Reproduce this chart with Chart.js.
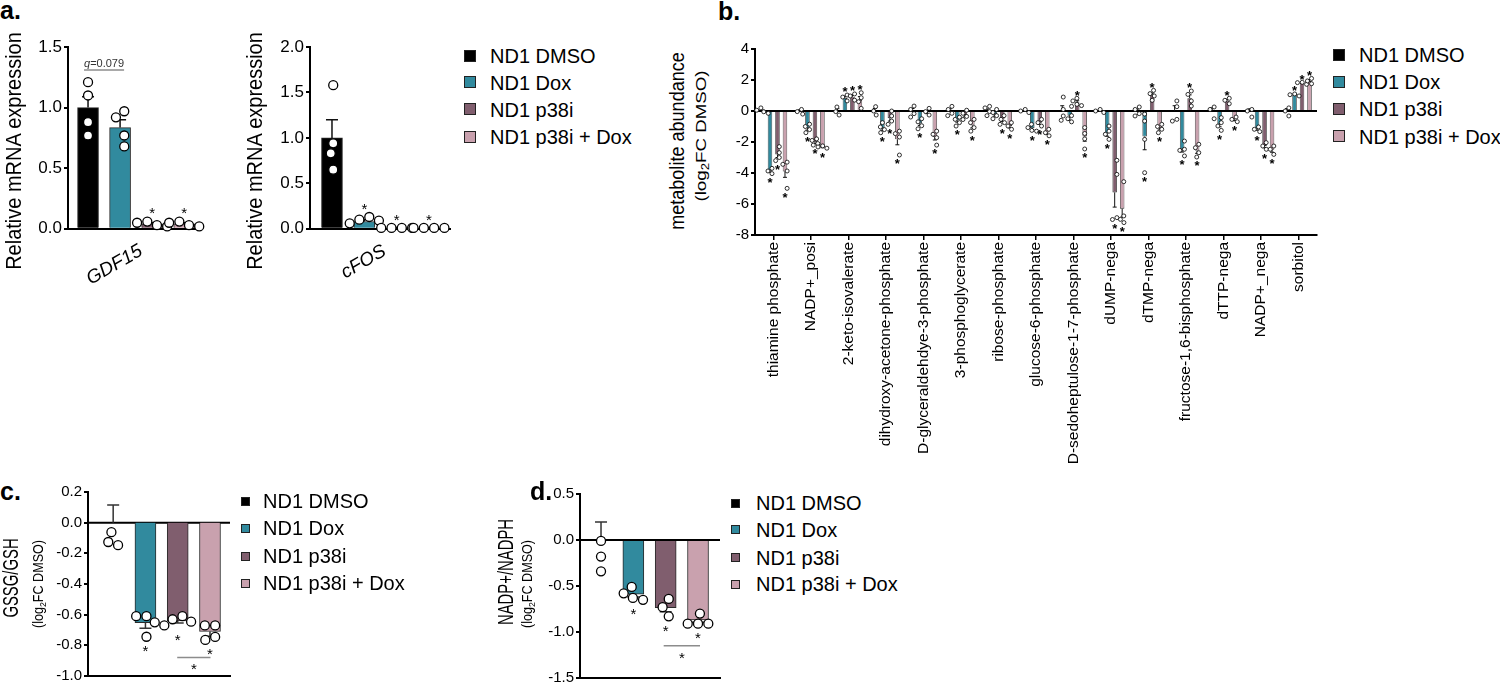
<!DOCTYPE html>
<html><head><meta charset="utf-8">
<script src="https://cdn.jsdelivr.net/npm/chart.js@4.4.1/dist/chart.umd.min.js"></script>
<style>
html,body{margin:0;padding:0;background:#fff;}
#page{position:relative;width:1500px;height:688px;overflow:hidden;font-family:"Liberation Sans",Arial,Helvetica,sans-serif;color:#000;}
canvas{position:absolute;}
.t{position:absolute;white-space:nowrap;}
.sq{position:absolute;box-sizing:border-box;border:1px solid #222;}
sub{font-size:0.7em;vertical-align:-0.3em;line-height:0;}
</style></head>
<body><div id="page"></div>
<script>
// ---------------- DATA ----------------
const groups = ['ND1 DMSO','ND1 Dox','ND1 p38i','ND1 p38i + Dox'];
const groupColors = ['#000000','#318a9e','#805e6e','#c9a1ae'];

// panel a - GDF15
const gdfMean = [1.0, 0.835, 0.04, 0.04];
const gdfErr = [0.09, 0.065, 0.01, 0.01];
const gdfPts = [[1.21,1.10,0.88,0.77],[0.97,0.92,0.77,0.68],[0.06,0.05,0.03,0.02],[0.06,0.05,0.03,0.02]];
const gdfStars = [0,0,1,1];
// panel a - cFOS
const cfosMean = [1.0, 0.08, 0.01, 0.01];
const cfosErr = [0.2, 0.02, 0.003, 0.003];
const cfosPts = [[1.58,0.94,0.83,0.65],[0.13,0.10,0.09,0.06],[0.01,0.01,0.01,0.01],[0.01,0.01,0.01,0.01]];
const cfosStars = [0,1,1,1];

// panel b - metabolites
const metabolites = ['thiamine phosphate','NADP+_posi','2-keto-isovalerate','dihydroxy-acetone-phosphate','D-glyceraldehdye-3-phosphate','3-phosphoglycerate','ribose-phosphate','glucose-6-phosphate','D-sedoheptulose-1-7-phosphate','dUMP-nega','dTMP-nega','fructose-1,6-bisphosphate','dTTP-nega','NADP+_nega','sorbitol'];
const bTicks = [-8,-6,-4,-2,0,2,4];
const bDmsoMean = [0,0,0,0,0,0,0,0,0,0,0,0,0,0,0];
const bDoxMean = [-3.85,-1.1,0.85,-1.1,-0.8,-0.6,-0.2,-1.1,-0.3,-1.45,-1.65,-2.45,-0.85,-1.15,1.05];
const bP38iMean = [-2.8,-2.0,0.92,-0.46,-0.05,-0.25,-0.55,-0.75,0.56,-5.25,1.03,0.83,0.66,-2.25,1.8];
const bComboMean = [-3.9,-2.32,0.72,-1.82,-1.68,-0.92,-0.97,-1.39,-1.65,-6.3,-1.1,-2.55,-0.54,-2.5,1.93];
const bDmsoErr = [0.06,0.08,0.15,0.16,0.16,0.14,0.13,0.06,0.34,0.06,0.13,0.34,0.2,0.14,0.15];
const bDoxErr = [0.1,0.13,0.11,0.14,0.14,0.12,0.13,0.1,0.3,0.18,0.85,0.2,0.17,0.09,0.05];
const bP38iErr = [0.2,0.1,0.12,0.19,0.12,0.13,0.12,0.12,0.1,0.95,0.13,0.21,0.1,0.12,0.05];
const bComboErr = [0.38,0.05,0.21,0.36,0.19,0.17,0.12,0.12,0.3,0.55,0.12,0.18,0.09,0.16,0.1];
const bDmsoPts = [[0.2,0.05,-0.05,-0.15],[0.1,-0.04,-0.2],[0.26,-0.04,-0.26],[0.28,0.0,-0.26],[0.32,0.1,-0.17,-0.39],[0.3,0.1,-0.15,-0.3],[0.3,0.2,-0.04,-0.3],[0.1,0.0,-0.1],[0.9,0.1,-0.32,-0.6],[0.1,0.0,-0.1],[0.26,0.1,-0.17,-0.32],[0.65,0.28,-0.54,-0.65],[0.26,0.1,-0.5],[0.1,0.0,-0.39],[0.2,0.0,-0.32]];
const bDoxPts = [[-3.7,-3.87,-4.04],[-0.85,-1.0,-1.2,-1.4],[1.03,0.9,0.65],[-0.75,-1.03,-1.2,-1.4],[-0.5,-0.7,-0.95,-1.15],[-0.4,-0.54,-0.75,-0.97],[0.1,-0.1,-0.3,-0.5],[-0.86,-1.07,-1.25,-1.3],[0.3,-0.3,-0.5,-0.7],[-0.97,-1.3,-1.5,-1.83],[-0.2,-0.65,-1.83,-3.98],[-1.94,-2.47,-2.54,-2.9],[-0.43,-0.75,-0.97,-1.25],[-1.03,-1.18,-1.33],[1.1,0.97,1.05]];
const bP38iPts = [[-2.3,-2.69,-3.0,-3.2],[-1.8,-1.9,-2.1,-2.2],[1.1,0.97,0.7],[0.0,-0.32,-0.65,-0.86],[0.17,-0.04,-0.26],[0.05,-0.15,-0.35,-0.55],[-0.3,-0.54,-0.75,-0.86],[-0.54,-0.75,-0.97],[0.35,0.43,0.65,0.82],[-3.18,-4.09,-6.88,-7.0],[1.33,1.12,0.97,0.69],[1.29,1.07,0.65,0.32],[0.82,0.69,0.47],[-2.04,-2.26,-2.47],[1.83,1.72,1.85]];
const bComboPts = [[-3.3,-3.44,-3.87,-4.99],[-2.25,-2.32,-2.4],[1.18,0.86,0.6,0.17],[-1.3,-1.46,-1.68,-2.84],[-1.3,-1.5,-1.72,-2.2],[-0.54,-0.75,-1.07,-1.3],[-0.75,-0.97,-1.18],[-1.18,-1.4,-1.6],[-1.07,-1.45,-1.8,-2.45],[-4.56,-6.77,-6.99,-7.2],[-0.86,-1.0,-1.18,-1.4],[-2.15,-2.37,-2.69,-2.97],[-0.39,-0.54,-0.69],[-2.26,-2.47,-2.8],[2.1,1.94,1.76]];
const bDmsoStars = [0,0,0,0,0,0,0,0,0,0,0,0,0,0,0];
const bDoxStars = [1,1,1,1,1,1,0,1,0,1,1,1,1,1,1];
const bP38iStars = [1,1,1,1,0,0,1,1,1,1,1,1,1,1,1];
const bComboStars = [1,1,1,1,1,1,1,1,1,1,1,1,1,1,1];

// panel c - GSSG/GSH
const gssgMean = [0, -0.653, -0.64, -0.71];
const gssgErr = [0.115, 0.035, 0.015, 0.03];
const gssgPts = [[-0.062,-0.147,-0.126],[-0.61,-0.61,-0.65,-0.744],[-0.61,-0.67,-0.63,-0.646],[-0.67,-0.67,-0.765,-0.745]];
const gssgStars = [0,1,1,1];
// panel d - NADP+/NADPH
const nadpMean = [0, -0.59, -0.735, -0.87];
const nadpErr = [0.197, 0.03, 0.045, 0.025];
const nadpPts = [[-0.01,-0.18,-0.34],[-0.65,-0.58,-0.51,-0.63],[-0.64,-0.73,-0.83],[-0.8,-0.91,-0.91,-0.91]];
const nadpStars = [0,1,1,1];

// ---------------- HELPERS ----------------
const FONT = '"Liberation Sans", Arial, Helvetica, sans-serif';
Chart.defaults.font.family = FONT;
Chart.defaults.color = '#000';
const page = document.getElementById('page');

function addText(html, x, baseline, size, o) {
  o = o || {};
  const d = document.createElement('div');
  d.className = 't';
  d.innerHTML = html;
  d.style.fontSize = size + 'px';
  d.style.lineHeight = size + 'px';
  d.style.left = x + 'px';
  d.style.top = (baseline - 0.8465 * size) + 'px';
  if (o.bold) d.style.fontWeight = 'bold';
  if (o.italic) d.style.fontStyle = 'italic';
  page.appendChild(d);
  return d;
}
function addRotText(html, cx, cy, size, deg, len, o) {
  o = o || {};
  const d = document.createElement('div');
  d.className = 't';
  d.innerHTML = html;
  d.style.fontSize = size + 'px';
  d.style.lineHeight = size + 'px';
  d.style.left = cx + 'px';
  d.style.top = cy + 'px';
  if (o.italic) d.style.fontStyle = 'italic';
  page.appendChild(d);
  const s = len ? len / d.offsetWidth : 1;
  d.style.transform = 'translate(-50%,-50%) rotate(' + deg + 'deg) scaleX(' + s + ')';
  return d;
}
function addLegend(sqX, sq, textX, rows, fs) {
  groups.forEach((g, i) => {
    const s = document.createElement('div');
    s.className = 'sq';
    s.style.left = sqX + 'px';
    s.style.top = (rows[i] - sq / 2) + 'px';
    s.style.width = sq + 'px';
    s.style.height = sq + 'px';
    s.style.background = groupColors[i];
    page.appendChild(s);
    addText(g, textX, rows[i] + 0.358 * fs, fs);
  });
}
function makeCanvas(left, top, w, h) {
  const c = document.createElement('canvas');
  c.width = w; c.height = h;
  c.style.left = left + 'px'; c.style.top = top + 'px';
  c.style.width = w + 'px'; c.style.height = h + 'px';
  page.appendChild(c);
  return c;
}
function swarm(ys, D) {
  const idx = ys.map((y, i) => i).sort((a, b) => ys[a] - ys[b]);
  const placed = [];
  idx.forEach(i => {
    const y = ys[i];
    const blocks = [];
    placed.forEach(p => {
      const dy = Math.abs(p.y - y);
      if (dy < D) { const w = Math.sqrt(D * D - dy * dy); blocks.push([p.dx - w, p.dx + w]); }
    });
    const cands = [0];
    blocks.forEach(b => cands.push(b[0], b[1]));
    const ok = c => blocks.every(b => c <= b[0] + 1e-6 || c >= b[1] - 1e-6);
    const valid = cands.filter(ok).sort((a, b) => (Math.abs(a) - Math.abs(b)) || (a - b));
    placed.push({ y: y, dx: valid[0] });
  });
  if (placed.length) {
    const mn = Math.min(...placed.map(p => p.dx)), mx = Math.max(...placed.map(p => p.dx));
    const c = (mn + mx) / 2;
    placed.forEach(p => p.dx -= c);
  }
  return placed;
}
function drawStar(ctx, x, yc, fs, bold) {
  ctx.fillStyle = '#000';
  ctx.font = (bold ? 'bold ' : '') + fs + 'px ' + FONT;
  ctx.textAlign = 'center';
  ctx.textBaseline = 'alphabetic';
  ctx.fillText('*', x, yc + 0.57 * fs);
}
function extras(cfg) {
  return {
    id: 'extras',
    beforeDatasetsDraw(chart) {
      if (!cfg.zeroLine) return;
      const { ctx, chartArea: a, scales: { y } } = chart;
      const y0 = y.getPixelForValue(0);
      ctx.save();
      ctx.strokeStyle = '#000'; ctx.lineWidth = 2;
      ctx.beginPath(); ctx.moveTo(a.left, y0); ctx.lineTo(a.right, y0); ctx.stroke();
      ctx.restore();
    },
    afterDatasetsDraw(chart) {
      const { ctx, scales: { y } } = chart;
      ctx.save();
      cfg.series.forEach(s => {
        const meta = chart.getDatasetMeta(s.dataset);
        s.means.forEach((m, i) => {
          const el = meta.data[i];
          const x = el.x;
          const e = s.errs[i] || 0;
          const up = m >= 0;
          const yBar = y.getPixelForValue(m);
          const yEnd = y.getPixelForValue(up ? m + e : m - e);
          ctx.strokeStyle = cfg.errColor; ctx.lineWidth = cfg.errLW;
          ctx.beginPath();
          ctx.moveTo(x, yBar); ctx.lineTo(x, yEnd);
          ctx.moveTo(x - cfg.capW / 2, yEnd); ctx.lineTo(x + cfg.capW / 2, yEnd);
          ctx.stroke();
          const pys = (s.pts[i] || []).map(v => y.getPixelForValue(v));
          const pos = swarm(pys, cfg.r * 2 + cfg.pLW);
          ctx.fillStyle = '#fff'; ctx.strokeStyle = '#000'; ctx.lineWidth = cfg.pLW;
          pos.forEach(p => {
            ctx.beginPath(); ctx.arc(x + p.dx, p.y, cfg.r, 0, Math.PI * 2); ctx.fill(); ctx.stroke();
          });
          if (s.stars[i]) {
            const fs = cfg.starSize;
            let yc;
            if (up) {
              const top = Math.min(yEnd, yBar, ...pys.map(v => v - cfg.r));
              yc = top - cfg.starGap - 0.15 * fs;
            } else {
              const bot = Math.max(yEnd, yBar, ...pys.map(v => v + cfg.r));
              yc = bot + cfg.starGap + 0.15 * fs;
            }
            drawStar(ctx, x, yc, fs, cfg.starBold);
          }
        });
      });
      (cfg.brackets || []).forEach(b => {
        const meta = chart.getDatasetMeta(0);
        const x0 = meta.data[b.from].x - b.ext, x1 = meta.data[b.to].x + b.ext;
        const yy = y.getPixelForValue(b.value);
        ctx.strokeStyle = '#8c8c8c'; ctx.lineWidth = 1.5;
        ctx.beginPath(); ctx.moveTo(x0, yy); ctx.lineTo(x1, yy); ctx.stroke();
        const cx = (x0 + x1) / 2;
        if (b.pos === 'above') {
          ctx.fillStyle = '#333';
          ctx.textBaseline = 'alphabetic'; ctx.textAlign = 'left';
          ctx.font = 'italic ' + b.size + 'px ' + FONT;
          const w1 = ctx.measureText(b.italic).width;
          ctx.font = b.size + 'px ' + FONT;
          const w2 = ctx.measureText(b.rest).width;
          const sx = cx - (w1 + w2) / 2;
          ctx.font = 'italic ' + b.size + 'px ' + FONT;
          ctx.fillText(b.italic, sx, yy - 3);
          ctx.font = b.size + 'px ' + FONT;
          ctx.fillText(b.rest, sx + w1, yy - 3);
        } else {
          drawStar(ctx, cx, yy + b.gap, cfg.starSize, false);
        }
      });
      ctx.restore();
    }
  };
}
function fmt1(v) { return Math.abs(v) < 1e-9 ? '0.0' : Number(v).toFixed(1); }

function smallChart(area, ymin, ymax, step, xmin, xmax, means, errs, pts, stars, tickSize, cfg) {
  const yw = 55, pt = 14, pr = 10, xh = 8;
  const W = yw + (area.r - area.l) + pr, H = pt + (area.b - area.t) + xh;
  const cv = makeCanvas(area.l - yw, area.t - pt, W, H);
  cfg.series = [{ dataset: 0, means: means, errs: errs, pts: pts, stars: stars }];
  return new Chart(cv, {
    type: 'bar',
    data: { datasets: [{ label: 'values', data: means.map((v, i) => ({ x: i, y: v })),
      backgroundColor: groupColors, borderColor: '#2a2a2a', borderWidth: 1, barThickness: 21 }] },
    options: {
      responsive: false, animation: false, devicePixelRatio: 1,
      layout: { padding: { left: 0, right: pr, top: pt, bottom: 0 } },
      plugins: { legend: { display: false }, tooltip: { enabled: false } },
      scales: {
        x: { type: 'linear', min: xmin, max: xmax, offset: false,
             ticks: { display: false }, grid: { display: false, offset: false },
             border: { display: true, color: '#000', width: 2 },
             afterFit: s => { s.height = xh; } },
        y: { min: ymin, max: ymax,
             ticks: { stepSize: step, callback: fmt1, font: { size: tickSize }, color: '#000', padding: 2 },
             grid: { drawOnChartArea: false, drawTicks: true, tickLength: 4, color: '#000', lineWidth: 2 },
             border: { color: '#000', width: 2 },
             afterFit: s => { s.width = yw; } }
      }
    },
    plugins: [extras(cfg)]
  });
}

// ---------------- PANEL A ----------------
smallChart({ l: 68, r: 197, t: 47, b: 233 }, 0, 1.5, 0.5, -0.625, 3.4, gdfMean, gdfErr, gdfPts, gdfStars, 17,
  { r: 4.5, pLW: 1.3, capW: 12, errLW: 1.5, errColor: '#111', starSize: 15, starGap: 5, zeroLine: false,
    brackets: [{ from: 0, to: 1, ext: 4, value: 1.31, pos: 'above', italic: 'q', rest: '=0.079', size: 11 }] });
smallChart({ l: 310, r: 450, t: 47, b: 233 }, 0, 2.0, 0.5, -0.68, 3.65, cfosMean, cfosErr, cfosPts, cfosStars, 17,
  { r: 4.5, pLW: 1.3, capW: 12, errLW: 1.5, errColor: '#111', starSize: 15, starGap: 5, zeroLine: false });

// ---------------- PANEL B ----------------
(function () {
  const area = { l: 755, r: 1317, t: 49, b: 235 };
  const yw = 40, pt = 14, pr = 12, xh = 235;
  const W = yw + (area.r - area.l) + pr, H = pt + (area.b - area.t) + xh;
  const cv = makeCanvas(area.l - yw, area.t - pt, W, H);
  const sets = [
    { means: bDmsoMean, errs: bDmsoErr, pts: bDmsoPts, stars: bDmsoStars },
    { means: bDoxMean, errs: bDoxErr, pts: bDoxPts, stars: bDoxStars },
    { means: bP38iMean, errs: bP38iErr, pts: bP38iPts, stars: bP38iStars },
    { means: bComboMean, errs: bComboErr, pts: bComboPts, stars: bComboStars }
  ];
  const cfg = { r: 2, pLW: 0.8, capW: 4, errLW: 1, errColor: '#111', starSize: 13, starBold: true, starGap: 2, zeroLine: true,
    series: sets.map((s, i) => Object.assign({ dataset: i }, s)) };
  new Chart(cv, {
    type: 'bar',
    data: { labels: metabolites, datasets: sets.map((s, i) => ({ label: groups[i], data: s.means,
      backgroundColor: groupColors[i], borderColor: '#2a2a2a', borderWidth: i === 0 ? 0 : 0.8,
      categoryPercentage: 0.8, barPercentage: 0.6 })) },
    options: {
      responsive: false, animation: false, devicePixelRatio: 1,
      layout: { padding: { left: 0, right: pr, top: pt, bottom: 0 } },
      plugins: { legend: { display: false }, tooltip: { enabled: false } },
      scales: {
        x: { ticks: { autoSkip: false, maxRotation: 90, minRotation: 90, font: { size: 15.5 }, color: '#000', padding: 2 },
             grid: { display: true, drawOnChartArea: false, drawTicks: true, tickLength: 5, color: '#000', lineWidth: 1.5, offset: false },
             border: { color: '#000', width: 2 },
             afterFit: s => { s.height = xh; } },
        y: { min: -8, max: 4,
             afterBuildTicks: s => { s.ticks = bTicks.map(v => ({ value: v })); },
             ticks: { callback: v => String(v), font: { size: 15 }, color: '#000', padding: 2 },
             grid: { drawOnChartArea: false, drawTicks: true, tickLength: 4, color: '#000', lineWidth: 2 },
             border: { color: '#000', width: 2 },
             afterFit: s => { s.width = yw; } }
      }
    },
    plugins: [extras(cfg)]
  });
})();

// ---------------- PANEL C / D ----------------
smallChart({ l: 88, r: 230, t: 492, b: 679 }, -1.0, 0.2, 0.2, -0.78, 3.62, gssgMean, gssgErr, gssgPts, gssgStars, 15,
  { r: 4.5, pLW: 1.3, capW: 12, errLW: 1.5, errColor: '#333', starSize: 15, starGap: 4, zeroLine: true,
    brackets: [{ from: 2, to: 3, ext: 0.5, value: -0.88, pos: 'below', gap: 8 }] });
smallChart({ l: 580, r: 720, t: 494, b: 681 }, -1.5, 0.5, 0.5, -0.65, 3.68, nadpMean, nadpErr, nadpPts, nadpStars, 15,
  { r: 4.5, pLW: 1.3, capW: 12, errLW: 1.5, errColor: '#333', starSize: 15, starGap: 4, zeroLine: true,
    brackets: [{ from: 2, to: 3, ext: 2, value: -1.15, pos: 'below', gap: 9 }] });

// ---------------- TEXT ----------------
addText('a.', 0, 19, 25, { bold: true });
addText('b.', 718, 20, 25, { bold: true });
addText('c.', 0, 500, 25, { bold: true });
addText('d.', 530, 500, 25, { bold: true });

addRotText('Relative mRNA expression', 14, 151, 22, -90, 238);
addRotText('Relative mRNA expression', 255, 151, 22, -90, 238);
addRotText('GDF15', 114, 264, 19, -30, 0, { italic: true });
addRotText('cFOS', 363, 261, 19, -30, 0, { italic: true });

addRotText('metabolite abundance', 675.5, 141, 21, -90, 178);
addRotText('(log<sub>2</sub>FC DMSO)', 700, 136, 15, -90, 131);

addRotText('GSSG/GSH', 11, 578, 22, -90, 79);
addRotText('(log<sub>2</sub>FC DMSO)', 38, 584, 14, -90, 88);
addRotText('NADP+/NADPH', 506, 572, 22, -90, 106);
addRotText('(log<sub>2</sub>FC DMSO)', 527, 584, 14, -90, 88);

addLegend(464, 12, 490, [55.5, 82.3, 109.3, 136.7], 20);
addLegend(1333, 12, 1359, [54.5, 81.7, 108.8, 136.3], 20);
addLegend(241, 9, 263, [501, 528, 556, 583], 20);
addLegend(731, 9, 756, [503, 529.5, 557.5, 584], 20);
</script>
</body></html>
